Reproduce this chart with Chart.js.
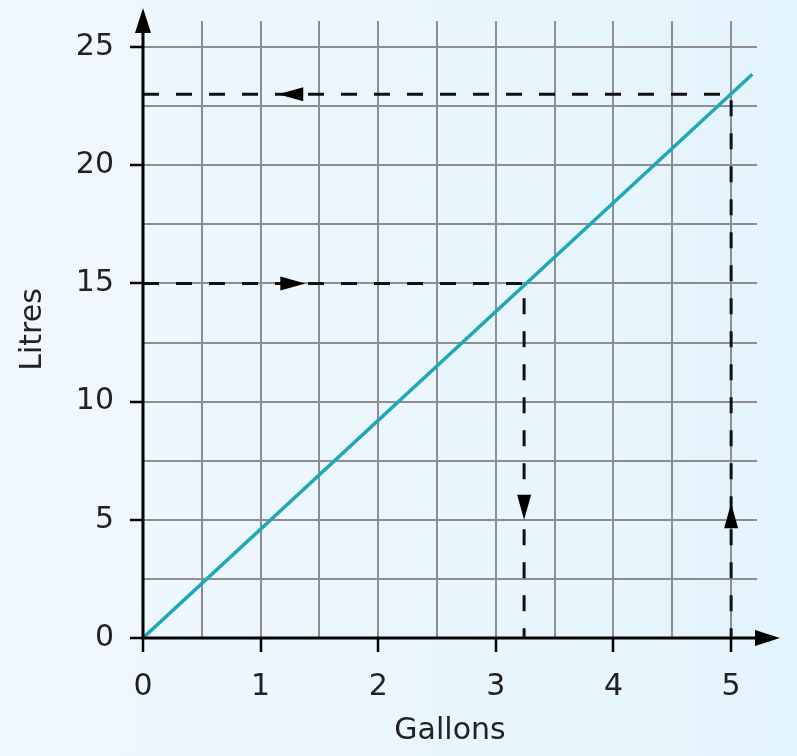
<!DOCTYPE html>
<html>
<head>
<meta charset="utf-8">
<script src="https://cdn.jsdelivr.net/npm/chart.js@4.4.1/dist/chart.umd.min.js"></script>
<style>
  html, body { margin: 0; padding: 0; }
  body { width: 797px; height: 756px; background: linear-gradient(to right, #f1f8fd, #e4f4fc); }
  #chart { display: block; }
</style>
</head>
<body>
<canvas id="chart" width="797" height="756"></canvas>
<script>
// conversion line: gallons -> litres
const gallons = [0, 5.18];
const litres = [0, 23.85];

// read-off guides
const gallonsToLitresX = [0, 5, 5];      // 5 gallons -> 23 litres
const gallonsToLitresY = [23, 23, 0];
const litresToGallonsX = [0, 3.24, 3.24]; // 15 litres -> 3.24 gallons
const litresToGallonsY = [15, 15, 0];

// arrow heads on the guides (tip position + direction)
const arrowX = [1.15, 1.38, 3.24, 5];
const arrowY = [23, 15, 5.0, 5.7];
const arrowDir = ['left', 'right', 'down', 'up'];

// grid / tick values
const xGrid = [0, 0.5, 1, 1.5, 2, 2.5, 3, 3.5, 4, 4.5, 5];
const xLabels = [0, 1, 2, 3, 4, 5];
const yGrid = [0, 2.5, 5, 7.5, 10, 12.5, 15, 17.5, 20, 22.5, 25];
const yLabels = [0, 5, 10, 15, 20, 25];

const pts = (xs, ys) => xs.map((v, i) => ({ x: v, y: ys[i] }));

const FONT = '"DejaVu Sans", sans-serif';
const TEXT = '#222';

function drawArrow(ctx, px, py, dir, len, half) {
  ctx.beginPath();
  ctx.moveTo(px, py);
  if (dir === 'left') { ctx.lineTo(px + len, py - half); ctx.lineTo(px + len, py + half); }
  if (dir === 'right') { ctx.lineTo(px - len, py - half); ctx.lineTo(px - len, py + half); }
  if (dir === 'up') { ctx.lineTo(px - half, py + len); ctx.lineTo(px + half, py + len); }
  if (dir === 'down') { ctx.lineTo(px - half, py - len); ctx.lineTo(px + half, py - len); }
  ctx.closePath();
  ctx.fill();
}

const axesPlugin = {
  id: 'axesArrows',
  afterDatasetsDraw(chart) {
    const { ctx, chartArea, scales: { x, y } } = chart;
    const x0 = x.getPixelForValue(0), y0 = y.getPixelForValue(0);
    ctx.save();
    ctx.fillStyle = '#000';
    ctx.strokeStyle = '#000';
    ctx.lineWidth = 3;
    // axes
    ctx.beginPath();
    ctx.moveTo(x0, y0 + 1.5);
    ctx.lineTo(x0, chartArea.top - 2);
    ctx.moveTo(x0 - 1.5, y0);
    ctx.lineTo(chartArea.right + 2, y0);
    ctx.stroke();
    drawArrow(ctx, x0, chartArea.top - 13, 'up', 25, 8);
    drawArrow(ctx, chartArea.right + 23, y0, 'right', 25, 8);
    // guide arrow heads
    arrowX.forEach((v, i) => {
      drawArrow(ctx, x.getPixelForValue(v), y.getPixelForValue(arrowY[i]), arrowDir[i], 25, 7);
    });
    ctx.restore();
  }
};

new Chart(document.getElementById('chart'), {
  type: 'line',
  data: {
    datasets: [
      {
        data: pts(gallonsToLitresX, gallonsToLitresY),
        borderColor: '#111', borderWidth: 3, borderDash: [16, 17],
        pointRadius: 0, fill: false, tension: 0
      },
      {
        data: pts(litresToGallonsX, litresToGallonsY),
        borderColor: '#111', borderWidth: 3, borderDash: [16, 17],
        pointRadius: 0, fill: false, tension: 0
      },
      {
        data: pts(gallons, litres),
        borderColor: '#1fa9b6', borderWidth: 3.5,
        pointRadius: 0, fill: false, tension: 0
      }
    ]
  },
  options: {
    responsive: false,
    animation: false,
    events: [],
    layout: { padding: { top: 21, right: 40, left: 0, bottom: 0 } },
    plugins: { legend: { display: false }, tooltip: { enabled: false } },
    scales: {
      x: {
        type: 'linear', min: 0, max: 5.22,
        afterBuildTicks: s => { s.ticks = xGrid.map(v => ({ value: v })); },
        afterFit: s => { s.height = 118; s.paddingLeft = 0; s.paddingRight = 0; },
        border: { display: false },
        grid: {
          color: '#8e8e8e', lineWidth: 2, tickLength: 14, tickWidth: 2.5,
          tickColor: c => xLabels.includes(c.tick && c.tick.value) ? '#000' : 'rgba(0,0,0,0)'
        },
        ticks: {
          autoSkip: false, maxRotation: 0, padding: 17, color: TEXT,
          font: { family: FONT, size: 30 },
          callback: v => xLabels.includes(v) ? String(v) : ''
        },
        title: {
          display: true, text: 'Gallons', color: TEXT,
          font: { family: FONT, size: 30 }, padding: { top: 0, bottom: 7 }
        }
      },
      y: {
        type: 'linear', min: 0, max: 26.1,
        afterBuildTicks: s => { s.ticks = yGrid.map(v => ({ value: v })); },
        afterFit: s => { s.width = 143; s.paddingTop = 0; s.paddingBottom = 0; },
        border: { display: false },
        grid: {
          color: '#8e8e8e', lineWidth: 2, tickLength: 13, tickWidth: 2.5,
          tickColor: c => yLabels.includes(c.tick && c.tick.value) ? '#000' : 'rgba(0,0,0,0)'
        },
        ticks: {
          autoSkip: false, padding: 16, color: TEXT,
          font: { family: FONT, size: 30 },
          callback: v => yLabels.includes(v) ? String(v) : ''
        },
        title: {
          display: true, text: 'Litres', color: TEXT,
          font: { family: FONT, size: 30 }, padding: { top: 15, bottom: 0 }
        }
      }
    }
  },
  plugins: [axesPlugin]
});
</script>
</body>
</html>
